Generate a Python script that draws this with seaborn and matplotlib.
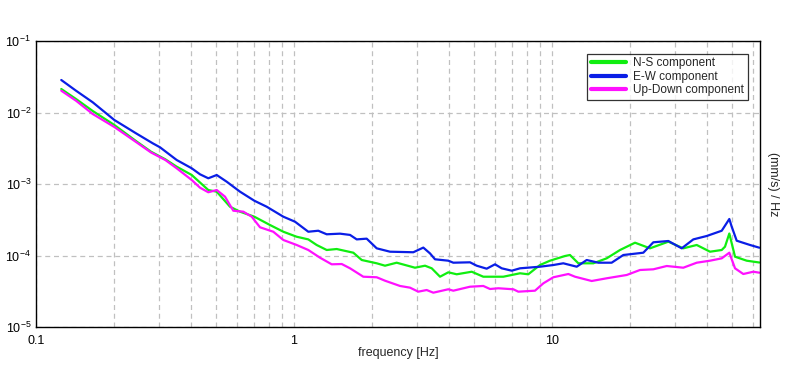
import numpy as np
import pandas as pd
import matplotlib
matplotlib.use('Agg')
import matplotlib.pyplot as plt
import matplotlib.ticker as mticker
import seaborn as sns

# N-S component (frequency [Hz], spectral density)
ns_freq = [0.1253, 0.1429, 0.1659, 0.2012, 0.2441, 0.2791, 0.3171, 0.3510, 0.4014, 0.4654,
           0.5017, 0.5649, 0.6176, 0.7017, 0.8071, 0.9090, 1.024, 1.136, 1.224, 1.339,
           1.464, 1.698, 1.830, 2.092, 2.253, 2.500, 2.944, 3.220, 3.418, 3.681,
           3.964, 4.272, 4.885, 5.416, 6.475, 7.516, 8.091, 8.983, 9.822, 11.23,
           11.74, 12.65, 14.46, 16.29, 18.35, 20.98, 23.98, 28.24, 32.28, 36.38,
           40.97, 45.48, 46.83, 48.67, 51.21, 56.84, 63.62]
ns_val = [0.02132, 0.01545, 0.01050, 0.00669, 0.00399, 0.00283, 0.002215, 0.001746, 0.001336, 0.000824,
          0.000781, 0.000481, 0.000410, 0.000349, 0.000267, 0.000215, 0.000183, 0.000168, 0.0001403, 0.0001194,
          0.0001232, 0.0001094, 0.0000865, 0.0000778, 0.0000720, 0.0000793, 0.0000675, 0.0000720, 0.0000662, 0.0000505,
          0.0000582, 0.0000546, 0.0000593, 0.0000505, 0.0000505, 0.0000564, 0.0000546, 0.0000736, 0.0000846, 0.0000984,
          0.0001016, 0.0000778, 0.0000778, 0.0000913, 0.0001194, 0.0001510, 0.000126, 0.0001560, 0.000126, 0.0001403,
          0.000113, 0.0001194, 0.0001328, 0.000203, 0.0000962, 0.0000846, 0.0000798]

# E-W component
ew_freq = [0.1253, 0.1429, 0.1659, 0.2012, 0.2441, 0.2834, 0.3024, 0.3510, 0.4014, 0.4322,
           0.4654, 0.5017, 0.5484, 0.6176, 0.7017, 0.7838, 0.9090, 1.009, 1.136, 1.242,
           1.339, 1.508, 1.649, 1.750, 1.913, 2.092, 2.356, 2.900, 3.171, 3.366,
           3.520, 3.964, 4.144, 4.811, 5.107, 5.582, 6.013, 6.383, 6.981, 7.516,
           8.983, 10.12, 11.06, 12.47, 13.63, 15.12, 17.03, 18.90, 22.59, 24.70,
           28.24, 31.82, 35.30, 39.78, 45.48, 48.67, 49.72, 51.99, 58.54, 63.62]
ew_val = [0.02848, 0.02018, 0.01389, 0.007856, 0.005119, 0.003709, 0.003262, 0.002166, 0.001658, 0.001367,
          0.001202, 0.001336, 0.001077, 0.000781, 0.000584, 0.000481, 0.000349, 0.000297, 0.000215, 0.000222,
          0.000198, 0.000202, 0.000194, 0.000168, 0.000172, 0.000126, 0.000113, 0.000111, 0.000129, 0.000107,
          0.0000885, 0.0000846, 0.0000793, 0.0000803, 0.0000720, 0.0000654, 0.0000753, 0.0000662, 0.0000613, 0.0000662,
          0.0000697, 0.0000736, 0.0000778, 0.0000697, 0.0000865, 0.0000793, 0.0000793, 0.0001016, 0.0001094, 0.0001530,
          0.0001595, 0.000126, 0.000168, 0.0001874, 0.000222, 0.000324, 0.0002528, 0.000161, 0.0001403, 0.0001286]

# Up-Down component
ud_freq = [0.1253, 0.1429, 0.1659, 0.2012, 0.2441, 0.2791, 0.3171, 0.3510, 0.4014, 0.4322,
           0.4654, 0.5017, 0.5402, 0.5817, 0.6362, 0.6856, 0.7384, 0.8312, 0.9090, 1.024,
           1.136, 1.261, 1.400, 1.531, 1.649, 1.856, 2.092, 2.253, 2.575, 2.816,
           3.032, 3.268, 3.467, 3.964, 4.144, 4.811, 5.416, 5.751, 6.192, 7.079,
           7.402, 8.592, 9.254, 10.12, 11.57, 12.28, 14.25, 16.29, 19.48, 21.93,
           24.70, 27.84, 32.28, 36.38, 40.97, 45.48, 48.67, 51.21, 55.13, 60.29, 63.62]
ud_val = [0.02018, 0.01462, 0.00953, 0.00627, 0.00387, 0.00276, 0.002166, 0.001658, 0.001137, 0.000888,
          0.000766, 0.000824, 0.000665, 0.000423, 0.000410, 0.000349, 0.000248, 0.000215, 0.0001648, 0.0001403,
          0.0001194, 0.0000932, 0.0000753, 0.0000760, 0.0000662, 0.0000505, 0.0000496, 0.0000444, 0.0000375, 0.0000355,
          0.0000312, 0.0000329, 0.0000302, 0.0000337, 0.0000322, 0.0000366, 0.0000375, 0.0000340, 0.0000348, 0.0000337,
          0.0000312, 0.0000322, 0.0000408, 0.0000496, 0.0000551, 0.0000505, 0.0000440, 0.0000480, 0.0000534, 0.0000627,
          0.0000641, 0.0000713, 0.0000675, 0.0000793, 0.0000846, 0.0000913, 0.0001094, 0.0000662, 0.0000551, 0.0000593, 0.0000575]

labels = ['N-S component', 'E-W component', 'Up-Down component']
colors = ['#10ee10', '#0a1ee6', '#ff10ff']

frames = []
for name, f, v in zip(labels, [ns_freq, ew_freq, ud_freq], [ns_val, ew_val, ud_val]):
    frames.append(pd.DataFrame({'freq': f, 'psd': v, 'component': name}))
df = pd.concat(frames, ignore_index=True)

sns.set_style('white')
plt.rcParams['font.family'] = ['Liberation Sans', 'DejaVu Sans']
plt.rcParams['mathtext.default'] = 'regular'

fig = plt.figure(figsize=(7.96, 3.70), dpi=100)
ax = fig.add_axes([36 / 796, 1 - 327 / 370, 724 / 796, 286 / 370])

sns.lineplot(data=df, x='freq', y='psd', hue='component', hue_order=labels,
             palette=dict(zip(labels, colors)), estimator=None, sort=False,
             linewidth=1.6, ax=ax)

ax.set_xscale('log')
ax.set_yscale('log')
ax.set_xlim(0.1, 64)
ax.set_ylim(1e-5, 1e-1)

ax.xaxis.set_major_locator(mticker.FixedLocator([0.1, 1, 10]))
ax.xaxis.set_major_formatter(mticker.FixedFormatter(['0.1', '1', '10']))
ax.xaxis.set_minor_locator(mticker.LogLocator(base=10, subs=np.arange(2, 10)))
ax.xaxis.set_minor_formatter(mticker.NullFormatter())
ax.yaxis.set_major_locator(mticker.LogLocator(base=10, numticks=10))
ax.yaxis.set_minor_locator(mticker.NullLocator())
ax.yaxis.set_major_formatter(mticker.FuncFormatter(lambda y, p: r'$10^{%d}$' % round(np.log10(y))))

ax.grid(True, which='major', axis='both', color='#c0c0c0', linestyle=(0, (4, 3)), linewidth=0.9)
ax.grid(True, which='minor', axis='x', color='#c0c0c0', linestyle=(0, (4, 3)), linewidth=0.9)
ax.tick_params(which='both', length=0, labelsize=9, colors='black')
ax.tick_params(axis='x', pad=6)

for s in ax.spines.values():
    s.set_color('black')
    s.set_linewidth(1.0)

ax.set_xlabel('frequency [Hz]', fontsize=9, labelpad=0)
ax.yaxis.set_label_position('right')
ax.set_ylabel('(mm/s) / Hz', fontsize=9, rotation=270, labelpad=14)

leg = ax.legend(loc='upper right', bbox_to_anchor=(0.983, 0.955), borderaxespad=0,
                frameon=True, fancybox=False, fontsize=8.5, handlelength=3.0,
                borderpad=0.3, labelspacing=0.12, handletextpad=0.6)
leg.get_frame().set_edgecolor('black')
leg.get_frame().set_linewidth(0.9)
for line in leg.get_lines():
    line.set_linewidth(3)

fig.savefig('out.png', dpi=100, facecolor='white')
